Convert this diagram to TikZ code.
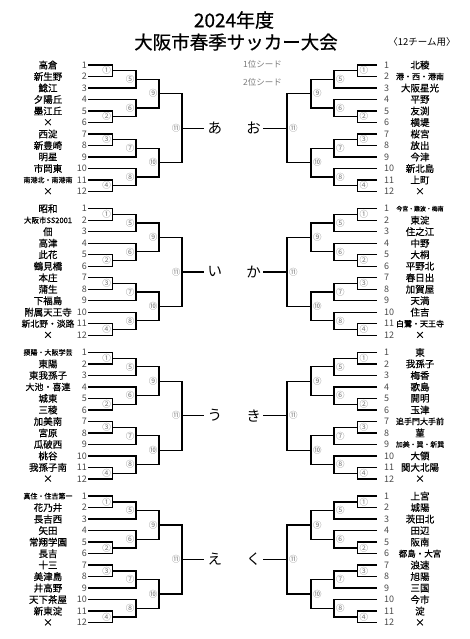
\documentclass[tikz,border=0pt]{standalone}
\usepackage{fontspec}
\setmainfont{Noto Sans CJK JP}
\newfontfamily\teamfont{Noto Sans CJK JP}[FakeBold=0.6]
\usetikzlibrary{positioning}
\definecolor{numgray}{HTML}{4A4A4A}
\definecolor{matchgray}{HTML}{7A7A7A}
\newcommand{\tsz}[2]{{\fontsize{#1}{#1}\selectfont #2}}
\tikzset{
  bracket/.style={line width=1.3pt},
  team/.style={font=\teamfont\fontsize{9.5}{9.5}\selectfont,inner sep=0pt},
  seednum/.style={font=\fontsize{9}{9}\selectfont,text=numgray,inner sep=0pt},
  matchno/.style={font=\fontsize{8.5}{8.5}\selectfont,text=matchgray,inner sep=0pt},
  poollabel/.style={font=\fontsize{14.5}{14.5}\selectfont,inner sep=0pt},
  seednote/.style={font=\fontsize{8.5}{8.5}\selectfont,text=matchgray,inner sep=0pt}
}
\begin{document}
\begin{tikzpicture}[x=1pt,y=-1pt,
  titleyear/.style={font=\teamfont\fontsize{19}{19}\selectfont,inner sep=0pt},
  titlemain/.style={font=\teamfont\fontsize{18.5}{18.5}\selectfont,inner sep=0pt},
  titlenote/.style={font=\fontsize{9.5}{9.5}\selectfont,inner sep=0pt}
]
  \useasboundingbox (0,0) rectangle (470,639);
  % title
  \node[titleyear] (year) at (234,20) {2024年度};
  \node[titlemain] (title) at (236,42) {大阪市春季サッカー大会};
  \node[titlenote] (note) at (422,42) {〈12チーム用〉};
  \node[seednote,anchor=west] (seedone) at (243,64) {1位シード};
  \node[seednote,anchor=west] (seedtwo) at (243,82) {2位シード};
  % brackets: block / first row / x of start, rounds 1-4, end / anchors / number x
  \foreach \b/\yo/\xs/\xa/\xb/\xc/\xd/\xo/\man/\dx/\nx/\nan in {
      L1/65/88/112.5/136/159/182/203.5/east/-1.5/87/east,
      L2/208.7/88/112.5/136/159/182/203.5/east/-1.5/87/east,
      L3/352.4/88/112.5/136/159/182/203.5/east/-1.5/87/east,
      L4/496.1/88/112.5/136/159/182/203.5/east/-1.5/87/east,
      R1/65/377/357.5/334/311/287/263/west/2/384/west,
      R2/208.7/377/357.5/334/311/287/263/west/2/384/west,
      R3/352.4/377/357.5/334/311/287/263/west/2/384/west,
      R4/496.1/377/357.5/334/311/287/263/west/2/384/west}{
    \foreach \r in {1,...,12}{
      \coordinate (\b-\r) at (\xs,{\yo+(\r-1)*11.5});
      \node[seednum,anchor=\nan] (\b-n\r) at (\nx,{\yo+(\r-1)*11.5}) {\r};
    }
    \foreach \m/\mx/\mr/\c in {1/\xa/0.5/①,2/\xa/4.5/②,3/\xa/6.5/③,4/\xa/10.5/④,
        5/\xb/1.25/⑤,6/\xb/3.75/⑥,7/\xb/7.25/⑦,8/\xb/9.75/⑧,
        9/\xc/2.5/⑨,10/\xc/8.5/⑩,11/\xd/5.5/⑪}{
      \coordinate (\b-m\m) at (\mx,{\yo+\mr*11.5});
      \node[matchno,anchor=\man] (\b-c\m) at ([xshift=\dx pt]\b-m\m) {\c};
    }
    \coordinate (\b-out) at (\xo,{\yo+5.5*11.5});
    \draw[bracket] (\b-1) -| (\b-m1) |- (\b-2);
    \draw[bracket] (\b-5) -| (\b-m2) |- (\b-6);
    \draw[bracket] (\b-7) -| (\b-m3) |- (\b-8);
    \draw[bracket] (\b-11) -| (\b-m4) |- (\b-12);
    \draw[bracket] (\b-m1) -| (\b-m5) |- (\b-3);
    \draw[bracket] (\b-4) -| (\b-m6) |- (\b-m2);
    \draw[bracket] (\b-m3) -| (\b-m7) |- (\b-9);
    \draw[bracket] (\b-10) -| (\b-m8) |- (\b-m4);
    \draw[bracket] (\b-m5) -| (\b-m9) |- (\b-m6);
    \draw[bracket] (\b-m7) -| (\b-m10) |- (\b-m8);
    \draw[bracket] (\b-m9) -| (\b-m11) |- (\b-m10);
    \draw[bracket] (\b-m11) -- (\b-out);
  }
  % pool labels
  \node[poollabel,right=4pt of L1-out] (poola) {あ};
  \node[poollabel,right=4pt of L2-out] (pooli) {い};
  \node[poollabel,right=4pt of L3-out] (poolu) {う};
  \node[poollabel,right=4pt of L4-out] (poole) {え};
  \node[poollabel,left=2pt of R1-out] (poolo) {お};
  \node[poollabel,left=2pt of R2-out] (poolka) {か};
  \node[poollabel,left=2pt of R3-out] (poolki) {き};
  \node[poollabel,left=2pt of R4-out] (poolku) {く};
  % teams, left side
  \foreach \t [count=\r] in {高倉,新生野,鯰江,夕陽丘,墨江丘,×,西淀,新豊崎,明星,市岡東,{\tsz{7}{南港北・南港南}},×}
    \node[team] (L1-t\r) at (48,{65+(\r-1)*11.5}) {\t};
  \foreach \t [count=\r] in {昭和,{\tsz{7.5}{大阪市SS2001}},佃,高津,此花,鶴見橋,本庄,蒲生,下福島,附属天王寺,{\tsz{8.8}{新北野・淡路}},×}
    \node[team] (L2-t\r) at (48,{208.7+(\r-1)*11.5}) {\t};
  \foreach \t [count=\r] in {{\tsz{7}{摂陽・大阪学芸}},東陽,東我孫子,{\tsz{9}{大池・喜連}},城東,三稜,加美南,宮原,瓜破西,桃谷,我孫子南,×}
    \node[team] (L3-t\r) at (48,{352.4+(\r-1)*11.5}) {\t};
  \foreach \t [count=\r] in {{\tsz{7}{真住・住吉第一}},花乃井,長吉西,矢田,常翔学園,長吉,十三,美津島,井高野,天下茶屋,新東淀,×}
    \node[team] (L4-t\r) at (48,{496.1+(\r-1)*11.5}) {\t};
  % teams, right side
  \foreach \t [count=\r] in {北稜,{\tsz{8}{港・西・港南}},大阪星光,平野,友渕,横堤,桜宮,放出,今津,新北島,上町,×}
    \node[team] (R1-t\r) at (420,{65+(\r-1)*11.5}) {\t};
  \foreach \t [count=\r] in {{\tsz{5.9}{今宮・難波・梅南}},東淀,住之江,中野,大桐,平野北,春日出,加賀屋,天満,住吉,{\tsz{8}{白鷺・天王寺}},×}
    \node[team] (R2-t\r) at (420,{208.7+(\r-1)*11.5}) {\t};
  \foreach \t [count=\r] in {東,我孫子,梅香,歌島,開明,玉津,{\tsz{8}{追手門大手前}},菫,{\tsz{6.9}{加美・巽・新巽}},大領,関大北陽,×}
    \node[team] (R3-t\r) at (420,{352.4+(\r-1)*11.5}) {\t};
  \foreach \t [count=\r] in {上宮,城陽,茨田北,田辺,阪南,{\tsz{8.5}{都島・大宮}},浪速,旭陽,三国,今市,淀,×}
    \node[team] (R4-t\r) at (420,{496.1+(\r-1)*11.5}) {\t};
\end{tikzpicture}
\end{document}
